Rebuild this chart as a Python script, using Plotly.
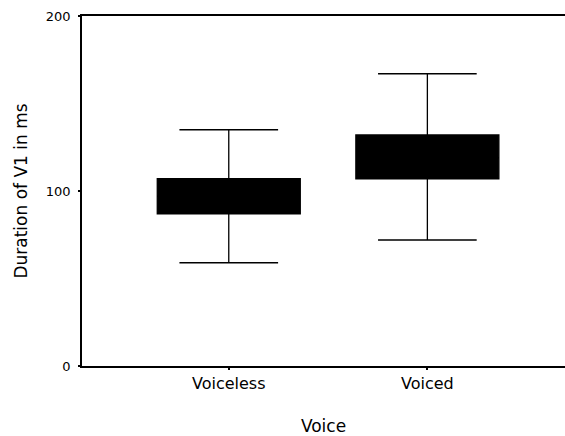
import plotly.graph_objects as go

# Duration of V1 (ms) by voicing of the following consonant
categories = ["Voiceless", "Voiced"]
lower_whisker = [59, 72]
q1_values = [87, 107]
median_values = [97, 119]
q3_values = [107, 132]
upper_whisker = [135, 167]
y_ticks = [0, 100, 200]

fig = go.Figure()
fig.add_trace(go.Box(
    x=categories,
    q1=q1_values,
    median=median_values,
    q3=q3_values,
    lowerfence=lower_whisker,
    upperfence=upper_whisker,
    fillcolor="black",
    line=dict(color="black", width=1.3),
    width=0.72,
    whiskerwidth=0.69,
    boxpoints=False,
    showlegend=False,
))

font_family = "DejaVu Sans, Verdana, sans-serif"
fig.update_layout(
    width=565, height=436,
    margin=dict(l=82, r=0, t=16, b=70),
    paper_bgcolor="white", plot_bgcolor="white",
    font=dict(family=font_family, color="black", size=13),
    xaxis=dict(
        type="category",
        range=[-0.739, 1.693],
        showline=True, linecolor="black", linewidth=1.5, mirror=True,
        ticks="outside", ticklen=2, tickwidth=2, tickcolor="black",
        showgrid=False, zeroline=False,
        tickfont=dict(size=16),
        title=dict(text="Voice", font=dict(size=17), standoff=29),
    ),
    yaxis=dict(
        range=[0, 200],
        tickvals=y_ticks,
        showline=True, linecolor="black", linewidth=1.5,
        ticks="outside", ticklen=2, tickwidth=2, tickcolor="black",
        ticklabelstandoff=5,
        showgrid=False, zeroline=False,
        tickfont=dict(size=13),
        title=dict(text="Duration of V1 in ms", font=dict(size=17), standoff=14),
    ),
)

fig.write_html("out.html")
